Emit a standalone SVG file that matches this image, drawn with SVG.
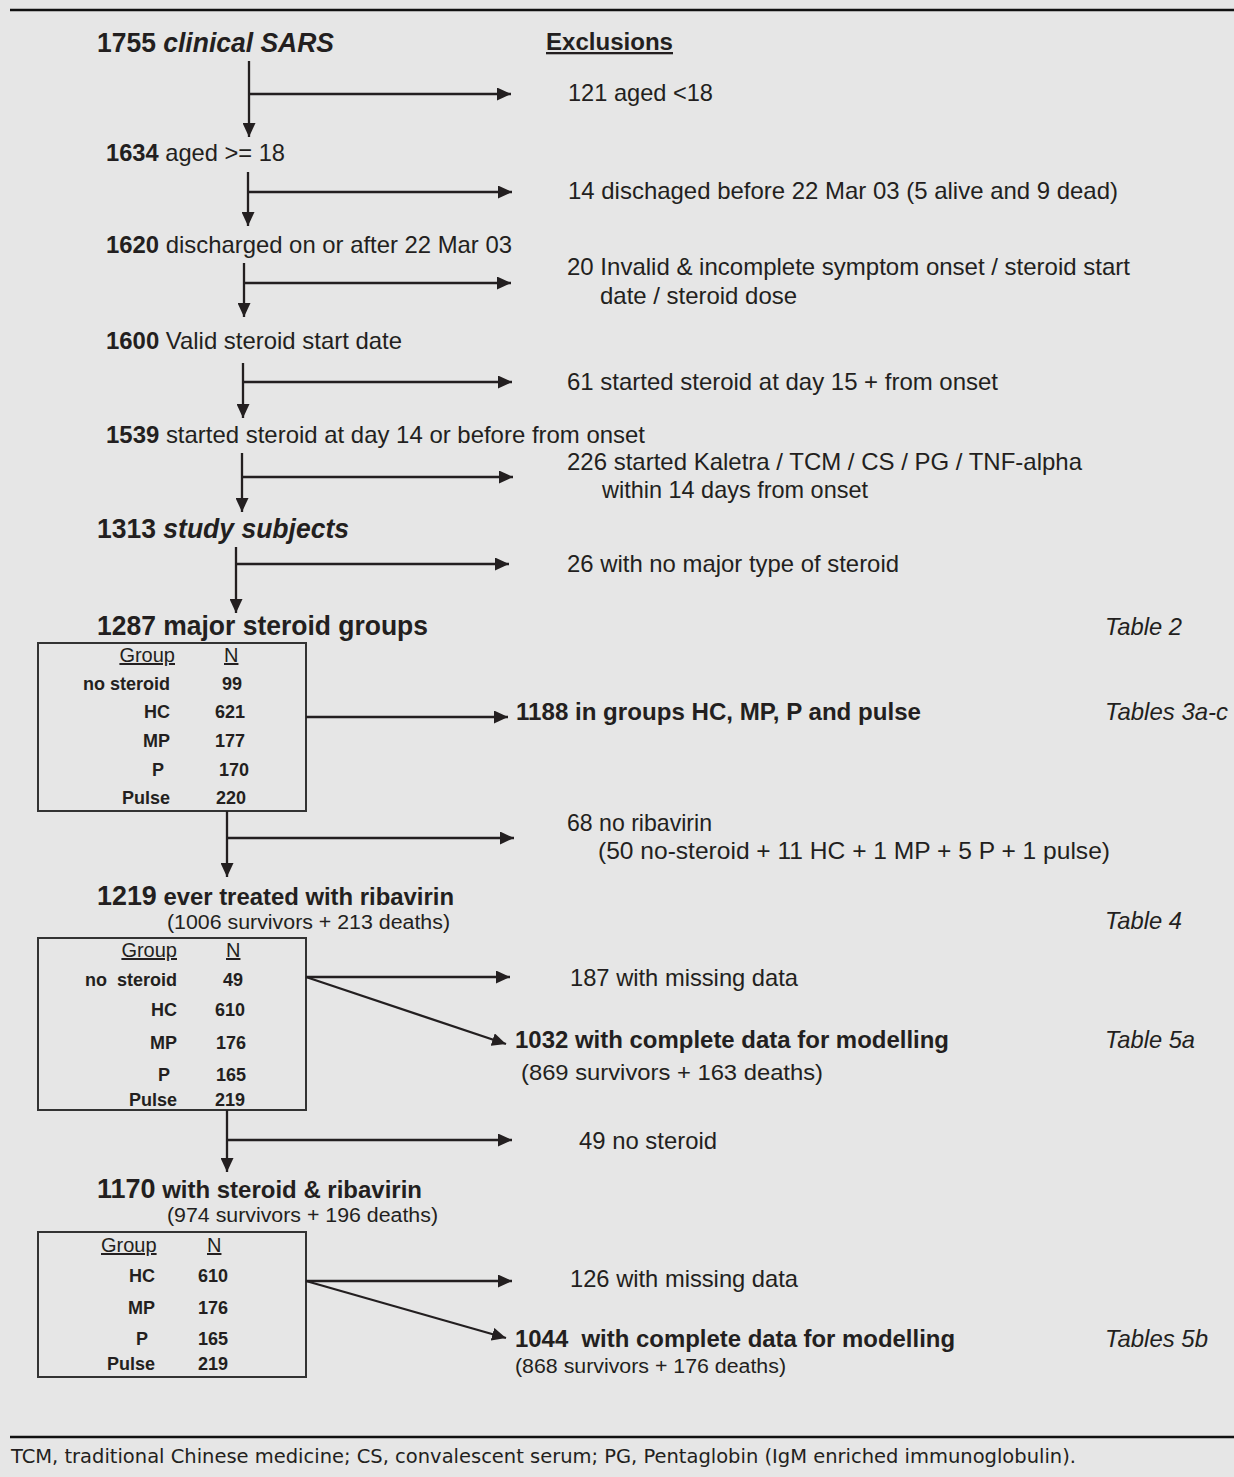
<svg xmlns="http://www.w3.org/2000/svg" width="1234" height="1477" viewBox="0 0 1234 1477">
<defs>
<style>
text{font-family:"Liberation Sans",Arial,sans-serif;fill:#231f20}
.big{font-size:27px;font-weight:bold}
.med{font-size:24px;font-weight:bold}
.reg{font-size:24px}
.sub{font-size:20px}
.tab{font-size:24px;font-style:italic}
.b{font-weight:bold}
.hd{font-size:20px;text-decoration:underline}
.row{font-size:18px;font-weight:bold}
.box{fill:none;stroke:#333;stroke-width:2}
.con line{stroke:#231f20;stroke-width:2.3;fill:none}
.foot{font-family:"DejaVu Sans Condensed","DejaVu Sans",sans-serif;font-size:20px;font-stretch:condensed}
</style>
<marker id="ah" markerUnits="userSpaceOnUse" markerWidth="15" markerHeight="13" refX="14" refY="6.5" orient="auto">
<path d="M0,0 L14,6.5 L0,13 z" fill="#231f20"/>
</marker>
</defs>
<rect width="1234" height="1477" fill="#e6e6e6"/>
<line x1="10" y1="10" x2="1234" y2="10" stroke="#111" stroke-width="2.5"/>
<line x1="10" y1="1437" x2="1234" y2="1437" stroke="#111" stroke-width="2.5"/>

<g id="n1755"><text class="big" x="97" y="52" textLength="237" lengthAdjust="spacingAndGlyphs">1755 <tspan font-style="italic">clinical SARS</tspan></text></g>
<g id="exclusions"><text x="546" y="50" font-size="23" font-weight="bold" text-decoration="underline" textLength="127" lengthAdjust="spacingAndGlyphs">Exclusions</text></g>
<g id="x121"><text class="reg" x="568" y="101" textLength="145" lengthAdjust="spacingAndGlyphs">121 aged &lt;18</text></g>
<g id="n1634"><text class="reg" x="106" y="161" textLength="179" lengthAdjust="spacingAndGlyphs"><tspan class="b">1634</tspan> aged &gt;= 18</text></g>
<g id="x14"><text class="reg" x="568" y="199" textLength="550" lengthAdjust="spacingAndGlyphs">14 dischaged before 22 Mar 03 (5 alive and 9 dead)</text></g>
<g id="n1620"><text class="reg" x="106" y="253" textLength="406" lengthAdjust="spacingAndGlyphs"><tspan class="b">1620</tspan> discharged on or after 22 Mar 03</text></g>
<g id="x20"><text class="reg" x="567" y="275" textLength="563" lengthAdjust="spacingAndGlyphs">20 Invalid &amp; incomplete symptom onset / steroid start</text>
<text class="reg" x="600" y="304" textLength="197" lengthAdjust="spacingAndGlyphs">date / steroid dose</text></g>
<g id="n1600"><text class="reg" x="106" y="349" textLength="296" lengthAdjust="spacingAndGlyphs"><tspan class="b">1600</tspan> Valid steroid start date</text></g>
<g id="x61"><text class="reg" x="567" y="390" textLength="431" lengthAdjust="spacingAndGlyphs">61 started steroid at day 15 + from onset</text></g>
<g id="n1539"><text class="reg" x="106" y="443" textLength="539" lengthAdjust="spacingAndGlyphs"><tspan class="b">1539</tspan> started steroid at day 14 or before from onset</text></g>
<g id="x226"><text class="reg" x="567" y="470" textLength="515" lengthAdjust="spacingAndGlyphs">226 started Kaletra / TCM / CS / PG / TNF-alpha</text>
<text class="reg" x="602" y="498" textLength="266" lengthAdjust="spacingAndGlyphs">within 14 days from onset</text></g>
<g id="n1313"><text class="big" x="97" y="538" textLength="252" lengthAdjust="spacingAndGlyphs">1313 <tspan font-style="italic">study subjects</tspan></text></g>
<g id="x26"><text class="reg" x="567" y="572" textLength="332" lengthAdjust="spacingAndGlyphs">26 with no major type of steroid</text></g>

<g id="n1287">
<text class="big" x="97" y="635" textLength="331" lengthAdjust="spacingAndGlyphs">1287 major steroid groups</text>
<rect class="box" x="38" y="643" width="268" height="168"/>
<text class="hd" x="175" y="662" text-anchor="end">Group</text>
<text class="hd" x="224" y="662">N</text>
<text class="row" x="170" y="690" text-anchor="end">no steroid</text><text class="row" x="222" y="690">99</text>
<text class="row" x="170" y="718" text-anchor="end">HC</text><text class="row" x="215" y="718">621</text>
<text class="row" x="170" y="747" text-anchor="end">MP</text><text class="row" x="215" y="747">177</text>
<text class="row" x="164" y="776" text-anchor="end">P</text><text class="row" x="219" y="776">170</text>
<text class="row" x="170" y="804" text-anchor="end">Pulse</text><text class="row" x="216" y="804">220</text>
</g>
<g id="t2"><text class="tab" x="1105" y="635" textLength="77" lengthAdjust="spacingAndGlyphs">Table 2</text></g>
<g id="n1188"><text class="med" x="516" y="720" textLength="405" lengthAdjust="spacingAndGlyphs">1188 in groups HC, MP, P and pulse</text></g>
<g id="t3"><text class="tab" x="1105" y="720" textLength="123" lengthAdjust="spacingAndGlyphs">Tables 3a-c</text></g>
<g id="x68"><text class="reg" x="567" y="831" textLength="145" lengthAdjust="spacingAndGlyphs">68 no ribavirin</text>
<text class="reg" x="598" y="859" textLength="512" lengthAdjust="spacingAndGlyphs">(50 no-steroid + 11 HC + 1 MP + 5 P + 1 pulse)</text></g>

<g id="n1219">
<text class="med" x="97" y="905" textLength="357" lengthAdjust="spacingAndGlyphs"><tspan font-size="27">1219</tspan> ever treated with ribavirin</text>
<text class="sub" x="167" y="929" textLength="283" lengthAdjust="spacingAndGlyphs">(1006 survivors + 213 deaths)</text>
<rect class="box" x="38" y="938" width="268" height="172"/>
<text class="hd" x="177" y="957" text-anchor="end">Group</text>
<text class="hd" x="226" y="957">N</text>
<text class="row" x="177" y="986" text-anchor="end" xml:space="preserve">no  steroid</text><text class="row" x="223" y="986">49</text>
<text class="row" x="177" y="1016" text-anchor="end">HC</text><text class="row" x="215" y="1016">610</text>
<text class="row" x="177" y="1049" text-anchor="end">MP</text><text class="row" x="216" y="1049">176</text>
<text class="row" x="170" y="1081" text-anchor="end">P</text><text class="row" x="216" y="1081">165</text>
<text class="row" x="177" y="1106" text-anchor="end">Pulse</text><text class="row" x="215" y="1106">219</text>
</g>
<g id="t4"><text class="tab" x="1105" y="929" textLength="77" lengthAdjust="spacingAndGlyphs">Table 4</text></g>
<g id="x187"><text class="reg" x="570" y="986" textLength="228" lengthAdjust="spacingAndGlyphs">187 with missing data</text></g>
<g id="n1032"><text class="med" x="515" y="1048" textLength="434" lengthAdjust="spacingAndGlyphs">1032 with complete data for modelling</text>
<text x="521" y="1080" font-size="22" textLength="302" lengthAdjust="spacingAndGlyphs">(869 survivors + 163 deaths)</text></g>
<g id="t5a"><text class="tab" x="1105" y="1048" textLength="90" lengthAdjust="spacingAndGlyphs">Table 5a</text></g>
<g id="x49"><text class="reg" x="579" y="1149" textLength="138" lengthAdjust="spacingAndGlyphs">49 no steroid</text></g>

<g id="n1170">
<text class="med" x="97" y="1198" textLength="325" lengthAdjust="spacingAndGlyphs"><tspan font-size="27">1170</tspan> with steroid &amp; ribavirin</text>
<text class="sub" x="167" y="1222" textLength="271" lengthAdjust="spacingAndGlyphs">(974 survivors + 196 deaths)</text>
<rect class="box" x="38" y="1232" width="268" height="145"/>
<text class="hd" x="101" y="1252">Group</text>
<text class="hd" x="207" y="1252">N</text>
<text class="row" x="155" y="1282" text-anchor="end">HC</text><text class="row" x="198" y="1282">610</text>
<text class="row" x="155" y="1314" text-anchor="end">MP</text><text class="row" x="198" y="1314">176</text>
<text class="row" x="148" y="1345" text-anchor="end">P</text><text class="row" x="198" y="1345">165</text>
<text class="row" x="155" y="1370" text-anchor="end">Pulse</text><text class="row" x="198" y="1370">219</text>
</g>
<g id="x126"><text class="reg" x="570" y="1287" textLength="228" lengthAdjust="spacingAndGlyphs">126 with missing data</text></g>
<g id="n1044"><text class="med" x="515" y="1347" textLength="440" lengthAdjust="spacingAndGlyphs" xml:space="preserve">1044  with complete data for modelling</text>
<text class="sub" x="515" y="1373" textLength="271" lengthAdjust="spacingAndGlyphs">(868 survivors + 176 deaths)</text></g>
<g id="t5b"><text class="tab" x="1105" y="1347" textLength="103" lengthAdjust="spacingAndGlyphs">Tables 5b</text></g>

<g id="footer"><text class="foot" x="11" y="1463" textLength="1065" lengthAdjust="spacingAndGlyphs">TCM, traditional Chinese medicine; CS, convalescent serum; PG, Pentaglobin (IgM enriched immunoglobulin).</text></g>

<g id="connectors" class="con">
<line x1="249" y1="61" x2="249" y2="137" marker-end="url(#ah)"/>
<line x1="249" y1="94" x2="511" y2="94" marker-end="url(#ah)"/>
<line x1="248" y1="172" x2="248" y2="226" marker-end="url(#ah)"/>
<line x1="248" y1="192" x2="512" y2="192" marker-end="url(#ah)"/>
<line x1="244" y1="263" x2="244" y2="317" marker-end="url(#ah)"/>
<line x1="244" y1="283" x2="511" y2="283" marker-end="url(#ah)"/>
<line x1="243" y1="363" x2="243" y2="418" marker-end="url(#ah)"/>
<line x1="243" y1="382" x2="512" y2="382" marker-end="url(#ah)"/>
<line x1="242" y1="453" x2="242" y2="512" marker-end="url(#ah)"/>
<line x1="242" y1="477" x2="513" y2="477" marker-end="url(#ah)"/>
<line x1="236" y1="547" x2="236" y2="613" marker-end="url(#ah)"/>
<line x1="236" y1="564" x2="509" y2="564" marker-end="url(#ah)"/>
<line x1="306" y1="717" x2="508" y2="717" marker-end="url(#ah)"/>
<line x1="227" y1="811" x2="227" y2="877" marker-end="url(#ah)"/>
<line x1="227" y1="838" x2="514" y2="838" marker-end="url(#ah)"/>
<line x1="306" y1="977" x2="510" y2="977" marker-end="url(#ah)"/>
<line x1="306" y1="977" x2="506" y2="1044" marker-end="url(#ah)"/>
<line x1="227" y1="1110" x2="227" y2="1172" marker-end="url(#ah)"/>
<line x1="227" y1="1140" x2="512" y2="1140" marker-end="url(#ah)"/>
<line x1="306" y1="1281" x2="512" y2="1281" marker-end="url(#ah)"/>
<line x1="306" y1="1281" x2="506" y2="1338" marker-end="url(#ah)"/>
</g>
</svg>
